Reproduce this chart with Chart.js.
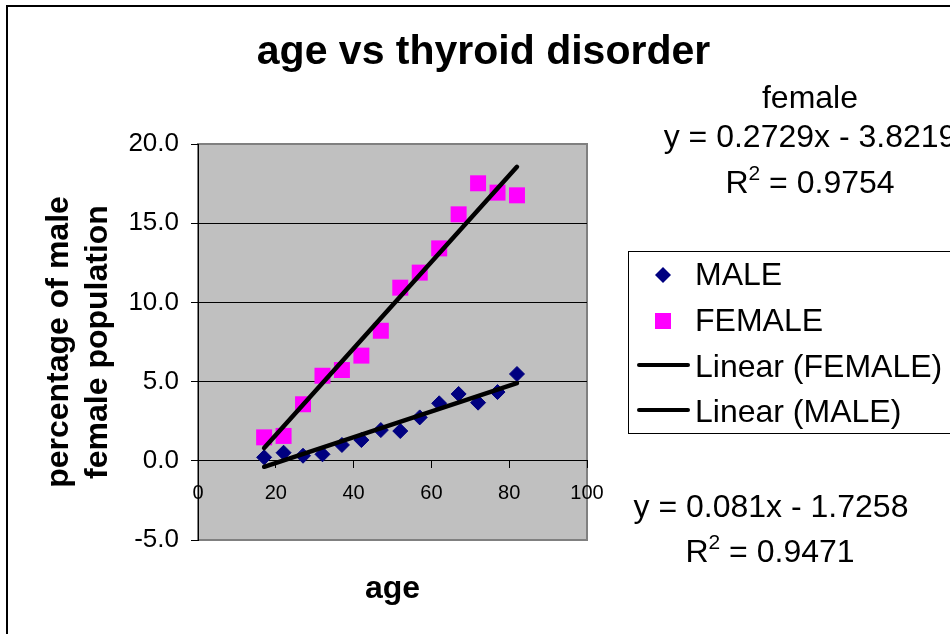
<!DOCTYPE html>
<html>
<head>
<meta charset="utf-8">
<title>age vs thyroid disorder</title>
<script src="https://cdn.jsdelivr.net/npm/chart.js@4/dist/chart.umd.min.js"></script>
<style>
  html, body { margin: 0; padding: 0; background: #fff; overflow: hidden; }
  #wrap { position: relative; width: 950px; height: 634px; overflow: hidden; }
  #chart { position: absolute; left: 0; top: 0; }
  #frame {
    position: absolute; left: 6px; top: 5px; width: 1200px; height: 900px;
    border-left: 2px solid #000; border-top: 2px solid #000; pointer-events: none;
  }
</style>
</head>
<body>
<div id="wrap">
  <canvas id="chart" width="967" height="634"></canvas>
  <div id="frame"></div>
</div>
<script>
// data
const ages = [17, 22, 27, 32, 37, 42, 47, 52, 57, 62, 67, 72, 77, 82];
const maleValues = [0.22, 0.51, 0.32, 0.41, 1.0, 1.31, 1.94, 1.88, 2.74, 3.63, 4.22, 3.67, 4.34, 5.48];
const femaleValues = [1.48, 1.57, 3.57, 5.37, 5.73, 6.64, 8.21, 10.93, 11.88, 13.41, 15.56, 17.52, 16.93, 16.76];
const yTicks = [-5, 0, 5, 10, 15, 20];
const xTicks = [0, 20, 40, 60, 80, 100];

const femaleEquation = ["female", "y = 0.2729x - 3.8219", "0.9754"];
const maleEquation = ["y = 0.081x - 1.7258", "0.9471"];
const legendLabels = ["MALE", "FEMALE", "Linear (FEMALE)", "Linear (MALE)"];

const FONT = "'Liberation Sans', Arial, sans-serif";
const NAVY = "#000080";
const PINK = "#FF00FF";

// least squares line over the data, drawn from first to last age
function trend(xs, ys) {
  const n = xs.length;
  const mx = xs.reduce((a, b) => a + b, 0) / n;
  const my = ys.reduce((a, b) => a + b, 0) / n;
  let sxy = 0, sxx = 0;
  xs.forEach((x, i) => { sxy += (x - mx) * (ys[i] - my); sxx += (x - mx) * (x - mx); });
  const m = sxy / sxx;
  const b = my - m * mx;
  const x0 = xs[0], x1 = xs[n - 1];
  return [{ x: x0, y: m * x0 + b }, { x: x1, y: m * x1 + b }];
}

const toPoints = (ys) => ages.map((x, i) => ({ x, y: ys[i] }));

// plot background and border
const plotArea = {
  id: "plotArea",
  beforeDraw(chart) {
    const { ctx, chartArea: a } = chart;
    ctx.save();
    ctx.fillStyle = "#C0C0C0";
    ctx.fillRect(a.left, a.top, a.right - a.left, a.bottom - a.top);
    ctx.strokeStyle = "#808080";
    ctx.lineWidth = 2;
    ctx.strokeRect(a.left, a.top, a.right - a.left, a.bottom - a.top);
    ctx.restore();
  },
};

function drawR2(ctx, value, cx, baseline) {
  ctx.font = "32px " + FONT;
  const rW = ctx.measureText("R").width;
  ctx.font = "21px " + FONT;
  const sW = ctx.measureText("2").width;
  ctx.font = "32px " + FONT;
  const rest = " = " + value;
  const restW = ctx.measureText(rest).width;
  let x = cx - (rW + sW + restW) / 2;
  ctx.textAlign = "left";
  ctx.fillText("R", x, baseline);
  x += rW;
  ctx.font = "21px " + FONT;
  ctx.fillText("2", x, baseline - 13);
  x += sW;
  ctx.font = "32px " + FONT;
  ctx.fillText(rest, x, baseline);
}

// trendline labels and the boxed legend
const extras = {
  id: "extras",
  afterDraw(chart) {
    const { ctx } = chart;
    ctx.save();
    ctx.fillStyle = "#000";
    ctx.textBaseline = "alphabetic";
    ctx.textAlign = "center";
    ctx.font = "32px " + FONT;
    ctx.fillText(femaleEquation[0], 810, 108);
    ctx.fillText(femaleEquation[1], 810, 147);
    drawR2(ctx, femaleEquation[2], 810, 193);
    ctx.textAlign = "center";
    ctx.fillText(maleEquation[0], 771, 517);
    drawR2(ctx, maleEquation[1], 770, 562);

    // legend box
    ctx.strokeStyle = "#000";
    ctx.lineWidth = 1;
    ctx.strokeRect(628.5, 251.5, 400, 182);
    const rows = [285, 331, 377, 422];
    // diamond
    ctx.fillStyle = NAVY;
    ctx.beginPath();
    ctx.moveTo(663, 267); ctx.lineTo(671, 275); ctx.lineTo(663, 283); ctx.lineTo(655, 275);
    ctx.closePath(); ctx.fill();
    // square
    ctx.fillStyle = PINK;
    ctx.fillRect(655, 313, 16, 16);
    // lines
    ctx.strokeStyle = "#000";
    ctx.lineWidth = 4;
    ctx.lineCap = "round";
    [365, 410].forEach((y) => {
      ctx.beginPath(); ctx.moveTo(639, y); ctx.lineTo(688, y); ctx.stroke();
    });
    ctx.fillStyle = "#000";
    ctx.textAlign = "left";
    ctx.font = "32px " + FONT;
    legendLabels.forEach((t, i) => ctx.fillText(t, 695, rows[i]));
    ctx.restore();
  },
};

new Chart(document.getElementById("chart"), {
  type: "scatter",
  data: {
    datasets: [
      {
        label: "Linear (FEMALE)",
        data: trend(ages, femaleValues),
        showLine: true,
        borderColor: "#000",
        borderWidth: 4.5,
        borderCapStyle: "round",
        pointRadius: 0,
        order: 0,
      },
      {
        label: "Linear (MALE)",
        data: trend(ages, maleValues),
        showLine: true,
        borderColor: "#000",
        borderWidth: 4.5,
        borderCapStyle: "round",
        pointRadius: 0,
        order: 0,
      },
      {
        label: "MALE",
        data: toPoints(maleValues),
        pointStyle: "rectRot",
        pointRadius: 7.5,
        pointBackgroundColor: NAVY,
        pointBorderColor: NAVY,
        pointBorderWidth: 1,
        order: 1,
      },
      {
        label: "FEMALE",
        data: toPoints(femaleValues),
        pointStyle: "rect",
        pointRadius: 11.3,
        pointBackgroundColor: PINK,
        pointBorderColor: PINK,
        pointBorderWidth: 0,
        order: 1,
      },
    ],
  },
  options: {
    responsive: false,
    animation: false,
    layout: { padding: { left: 0, right: 0, top: 0, bottom: 94 } },
    plugins: {
      legend: { display: false },
      tooltip: { enabled: false },
      title: {
        display: true,
        text: "age vs thyroid disorder",
        color: "#000",
        font: { family: FONT, size: 41, weight: "bold", lineHeight: 1.2 },
        padding: { top: 28, bottom: 66.8 },
      },
    },
    scales: {
      x: {
        type: "linear",
        position: { y: 0 },
        min: 0,
        max: 100,
        afterBuildTicks: (s) => { s.ticks = xTicks.map((v) => ({ value: v })); },
        afterFit: (s) => { s.height = 147.4; },
        ticks: {
          color: "#000",
          font: { family: FONT, size: 20 },
          padding: 14,
          maxRotation: 0,
          autoSkip: false,
        },
        grid: { drawOnChartArea: false, drawTicks: true, tickLength: 7, tickColor: "#000" },
        border: { display: true, color: "#000", width: 1 },
        title: {
          display: true,
          text: "age",
          color: "#000",
          font: { family: FONT, size: 32, weight: "bold", lineHeight: 1.2 },
          padding: 0,
        },
      },
      y: {
        min: -5,
        max: 20,
        afterBuildTicks: (s) => { s.ticks = yTicks.map((v) => ({ value: v })); },
        afterFit: (s) => { s.width = 198; },
        ticks: {
          color: "#000",
          font: { family: FONT, size: 26 },
          padding: 12,
          callback: (v) => Number(v).toFixed(1),
        },
        grid: {
          color: (c) => (c.tick && (c.tick.value === 20 || c.tick.value === -5) ? "rgba(0,0,0,0)" : "#000"),
          lineWidth: 1,
          tickLength: 7,
          tickColor: "#000",
        },
        border: { display: true, color: "#000", width: 1 },
        title: {
          display: true,
          text: ["percentage of male", "female population"],
          color: "#000",
          font: { family: FONT, size: 32, weight: "bold", lineHeight: 1.22 },
          padding: { top: 40, bottom: 0 },
        },
      },
      // empty right-hand axis: keeps the space where legend and labels sit
      side: {
        type: "linear",
        position: "right",
        display: true,
        afterFit: (s) => { s.width = 380; },
        ticks: { display: false },
        grid: { display: false, drawTicks: false },
        border: { display: false },
      },
    },
  },
  plugins: [plotArea, extras],
});
</script>
</body>
</html>
